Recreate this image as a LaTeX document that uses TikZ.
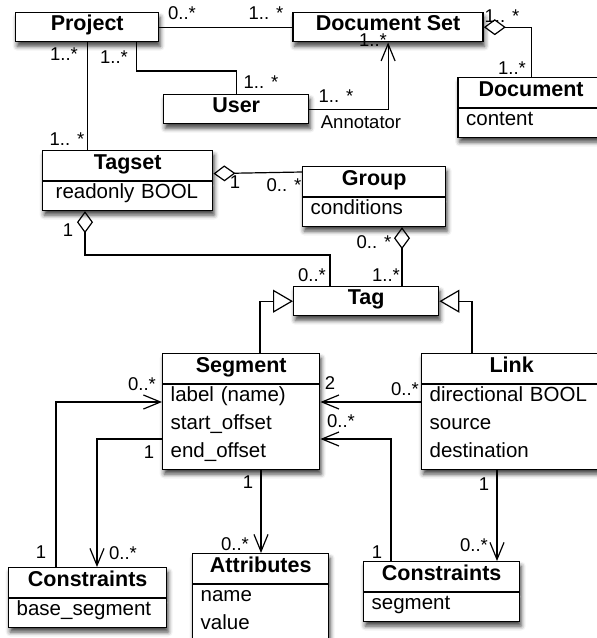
\documentclass[tikz,border=0pt]{standalone}
\usepackage{fontspec}
\setmainfont{Liberation Sans}
\usetikzlibrary{arrows.meta,positioning,shapes.multipart,shadows.blur}

\newcommand\ttl[1]{\fontsize{21.5}{28}\selectfont\bfseries #1\rule[-11pt]{0pt}{29pt}}
\newcommand\ctitle[1]{\hbox to\hsize{\hss\ttl{#1}\hss}}
\newcommand\attr{\rule[-11pt]{0pt}{28pt}}

\begin{document}
\begin{tikzpicture}[x=1pt,y=-1pt,font=\fontsize{20.5}{28}\selectfont,
 simpleclass/.style={draw,fill=white,line width=1.4pt,inner sep=0pt,minimum height=29pt,anchor=north west,
   blur shadow={shadow xshift=1.5pt,shadow yshift=-4.5pt,shadow blur radius=4.5pt,shadow opacity=75}},
 umlclass/.style={simpleclass,rectangle split,rectangle split parts=2,inner xsep=8pt,inner ysep=0pt,minimum height=0pt,align=left},
 assoc/.style={line width=1.2pt},
 navig/.style={assoc,-{Straight Barb[length=17pt,width=14pt]}},
 general/.style={assoc,-{Triangle[open,length=20pt,width=23pt]}},
 aggreg/.style={assoc,{Diamond[open,length=22pt,width=16pt]}-},
 mult/.style={font=\fontsize{18.5}{20}\selectfont,inner sep=0pt}]
\useasboundingbox (0,0) rectangle (597,638);
\node[simpleclass,minimum width=143pt] (project) at (15,12) {\ttl{Project}};
\node[simpleclass,minimum width=190pt,right=133pt of project] (docset) {\ttl{Document Set}};
\node[simpleclass,minimum width=145pt,below right=82pt and 148pt of project.north west] (user) {\ttl{User}};
\node[umlclass,text width=130pt,below right=65pt and 165pt of docset.north west] (document)
  {\ctitle{Document}\nodepart{two}\attr content};
\node[umlclass,text width=154pt,below right=138pt and 27pt of project.north west] (tagset)
  {\ctitle{Tagset}\nodepart{two}\attr\hspace*{5pt}readonly BOOL};
\node[umlclass,text width=127pt,below right=16pt and 260pt of tagset.north west] (group)
  {\ctitle{Group}\nodepart{two}\attr conditions};
\node[simpleclass,minimum width=145pt,below right=136pt and 251pt of tagset.north west] (tag) {\ttl{Tag}};
\node[umlclass,text width=141pt,below right=67pt and -131pt of tag.north west] (segment)
  {\ctitle{Segment}\nodepart{two}\attr label (name)\\\attr start\_offset\\\attr end\_offset};
\node[umlclass,text width=164pt,below right=0pt and 259pt of segment.north west] (link)
  {\ctitle{Link}\nodepart{two}\attr directional BOOL\\\attr source\\\attr destination};
\node[umlclass,text width=142pt,below right=214pt and -154pt of segment.north west] (consL)
  {\ctitle{Constraints}\nodepart{two}\attr base\_segment};
\node[umlclass,text width=120pt,below right=200pt and 30pt of segment.north west] (attributes)
  {\ctitle{Attributes}\nodepart{two}\attr name\\\rule[-20pt]{0pt}{37pt}value};
\node[umlclass,text width=140pt,below right=8pt and 171pt of attributes.north west] (consR)
  {\ctitle{Constraints}\nodepart{two}\attr segment};
% associations
\draw[assoc] (project) -- (docset);
\draw[assoc] ([xshift=-23pt]project.south east) |- ([yshift=23pt]user.north) -- (user.north);
\draw[assoc] (project.south) -- (project.south |- tagset.north);
\draw[navig] (user.east) -| (docset.south);
\draw[aggreg] (docset.east) -| (document.north);
\draw[aggreg] ([yshift=7pt]tagset.east) -- ([yshift=-6pt]group.north west);
\draw[aggreg] ([xshift=43pt]tagset.south west) |- ([xshift=37pt,yshift=31pt]tag.north west) -- ([xshift=37pt]tag.north west);
\draw[aggreg] ([xshift=100pt]group.south west) -- ([xshift=109pt]tag.north west);
\draw[general] ([xshift=98pt]segment.north west) |- (tag.west);
\draw[general] ([xshift=51pt]link.north west) |- (tag.east);
\draw[navig] ([yshift=-49pt]link.north west) -- ([yshift=-49pt]segment.north east);
\draw[navig] ([xshift=28pt]consR.north west) |- ([yshift=-86pt]segment.north east);
\draw[navig] ([xshift=76pt]link.south west) -- ([xshift=134pt]consR.north west);
\draw[navig] ([xshift=99pt]segment.south west) -- ([xshift=69pt]attributes.north west);
\draw[navig] ([yshift=-86pt]segment.north west) -| ([xshift=89pt]consL.north west);
\draw[navig] ([xshift=48pt]consL.north west) |- ([yshift=-49pt]segment.north west);
% multiplicities
\foreach \x/\y/\t [count=\i] in {182/13/0..*,266/13/1.. *,114/57/1..*,261/82/1.. *,64/54/1..*,67/139/1.. *,
  336/96/1.. *,361/122/Annotator,373/40/1..*,502/16/1.. *,512/68/1..*,235/182/1,284/185/0.. *,
  68/230/1,312/275/0..*,374/242/0.. *,386/275/1..*,330/383/2,405/389/0..*,341/421/0..*,377/552/1,
  484/484/1,474/545/0..*,248/482/1,235/544/0..*,149/452/1,123/553/0..*,142/384/0..*,41/552/1}
  \node[mult] (m\i) at (\x,\y) {\t};
\end{tikzpicture}
\end{document}
